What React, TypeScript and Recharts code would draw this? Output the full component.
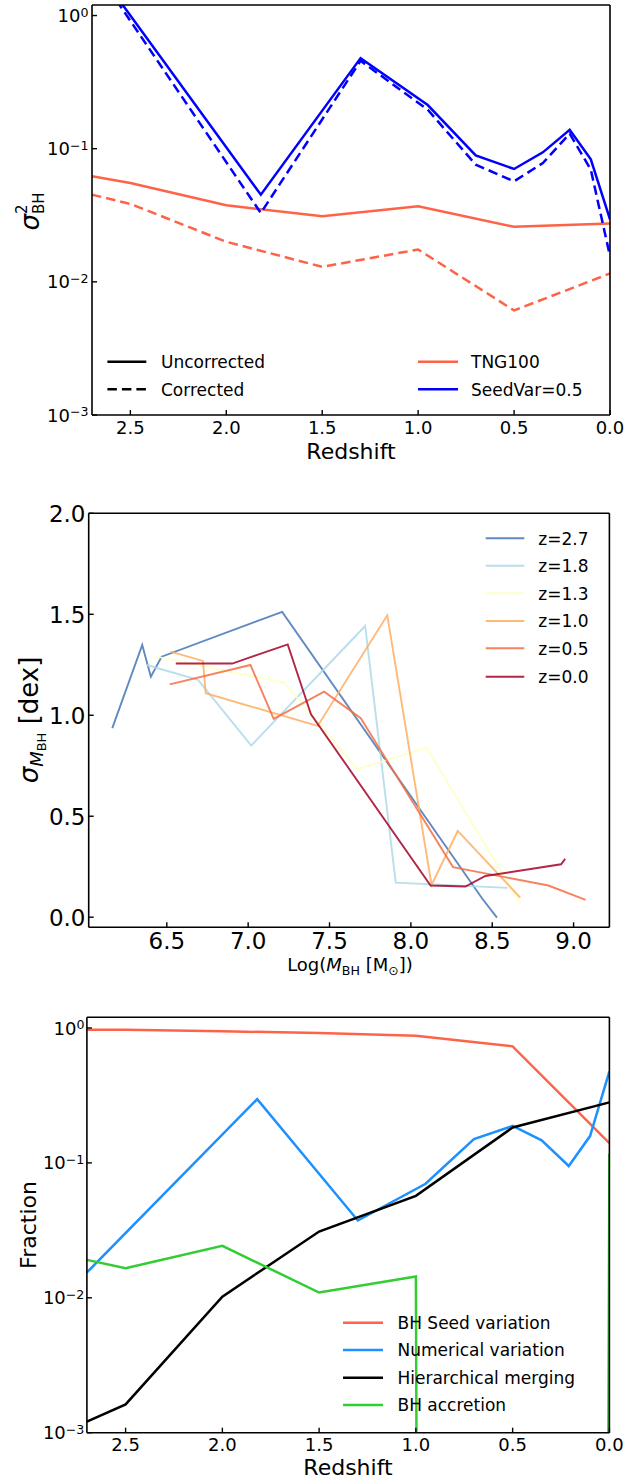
import React from 'react';
import { LineChart, Line, XAxis, YAxis } from 'recharts';

const FONT = "'DejaVu Sans', 'Liberation Sans', sans-serif";

// ---------- Panel 1: sigma^2_BH vs redshift ----------
const tngZ = [2.7, 2.5, 2.0, 1.5, 1.0, 0.5, 0.0];
const tngUncorrected = [0.062, 0.0553, 0.0376, 0.0311, 0.0369, 0.0259, 0.0274];
const tngCorrected = [0.0452, 0.0385, 0.02, 0.01296, 0.0175, 0.0061, 0.01155];
const seedVarZ = [2.7, 1.82, 1.3, 0.95, 0.7, 0.5, 0.35, 0.21, 0.1, 0.0];
const seedVarUncorrected = [2.49, 0.0451, 0.479, 0.2127, 0.0891, 0.0704, 0.0939, 0.1388, 0.0832, 0.0294];
const seedVarCorrected = [2.42, 0.0329, 0.457, 0.196, 0.0759, 0.0569, 0.078, 0.1296, 0.0696, 0.0156];

const redshiftTicks = [0, 0.5, 1.0, 1.5, 2.0, 2.5];
const logTicks = [0.001, 0.01, 0.1, 1];

// ---------- Panel 2: sigma_MBH vs log M_BH ----------
const massTicks = [6.5, 7.0, 7.5, 8.0, 8.5, 9.0];
const sigmaTicks = [0, 0.5, 1.0, 1.5, 2.0];
const z27Mass = [6.165, 6.349, 6.402, 6.468, 7.209, 8.437, 8.529];
const z27Sigma = [0.936, 1.348, 1.191, 1.29, 1.512, 0.094, -0.002];
const z18Mass = [6.376, 6.692, 7.019, 7.719, 7.907, 8.594];
const z18Sigma = [1.249, 1.175, 0.85, 1.442, 0.171, 0.145];
const z13Mass = [6.437, 7.223, 7.672, 8.096, 8.672];
const z13Sigma = [1.29, 1.161, 0.733, 0.84, 0.072];
const z10Mass = [6.523, 6.722, 6.739, 7.427, 7.855, 8.127, 8.288, 8.672];
const z10Sigma = [1.315, 1.269, 1.109, 0.947, 1.495, 0.16, 0.427, 0.097];
const z05Mass = [6.518, 7.014, 7.157, 7.467, 7.692, 8.259, 8.845, 9.074];
const z05Sigma = [1.153, 1.249, 0.982, 1.117, 0.985, 0.248, 0.157, 0.086];
const z00Mass = [6.555, 6.902, 7.243, 7.386, 8.121, 8.335, 8.458, 8.923, 8.948];
const z00Sigma = [1.256, 1.256, 1.351, 1.005, 0.157, 0.152, 0.204, 0.262, 0.289];

// ---------- Panel 3: fractions vs redshift ----------
const seedFracZ = [2.7, 2.5, 2.0, 1.5, 1.0, 0.5, 0.0];
const seedFrac = [0.972, 0.972, 0.945, 0.918, 0.877, 0.731, 0.14];
const numFracZ = [2.7, 1.82, 1.3, 0.95, 0.7, 0.5, 0.35, 0.21, 0.1, 0.0];
const numFrac = [0.0154, 0.297, 0.0374, 0.07, 0.15, 0.188, 0.147, 0.0948, 0.158, 0.477];
const mergeFracZ = [2.7, 2.5, 2.0, 1.5, 1.0, 0.5, 0.0];
const mergeFrac = [0.001206, 0.00162, 0.0102, 0.031, 0.057, 0.183, 0.281];
const accFracZ = [2.7, 2.5, 2.0, 1.5, 1.0, 0.5, 0.0];
const accFrac = [0.0191, 0.01656, 0.0243, 0.01094, 0.01436, 0, 0.117];

type Pt = { x: number; y: number };
const toRows = (xs: number[], ys: number[]): Pt[] => xs.map((x, i) => ({ x, y: ys[i] }));
// non-positive values cannot be shown on a log axis: push them far below the axis (clipped)
const toLogRows = (xs: number[], ys: number[]): Pt[] =>
  xs.map((x, i) => ({ x, y: ys[i] > 0 ? ys[i] : 1e-200 }));

const axisLine = { stroke: '#000', strokeWidth: 1.6 };
const tickLine = { stroke: '#000', strokeWidth: 1.4 };

const BottomTick = (props: any) => {
  const { x, y, payload, fs, off } = props;
  return (
    <text x={x} y={y + off} textAnchor="middle" fontSize={fs} fontFamily={FONT} fill="#000">
      {Number(payload.value).toFixed(1)}
    </text>
  );
};

const LeftTick = (props: any) => {
  const { x, y, payload, fs, gap, base } = props;
  return (
    <text x={x - gap} y={y + base} textAnchor="end" fontSize={fs} fontFamily={FONT} fill="#000">
      {Number(payload.value).toFixed(1)}
    </text>
  );
};

const LogTick = (props: any) => {
  const { x, y, payload, fs, gap, base } = props;
  const e = Math.round(Math.log10(Number(payload.value)));
  const sup = e === 0 ? '0' : '\u2212' + String(-e);
  return (
    <text x={x - gap} y={y + base} textAnchor="end" fontSize={fs} fontFamily={FONT} fill="#000">
      10
      <tspan fontSize={fs * 0.7} dy={-fs * 0.3}>
        {sup}
      </tspan>
    </text>
  );
};

const TNG_COLOR = '#ff6347';
const SEED_COLOR = '#0000ff';
const DASH = '9.5 5';

const p2Series = [
  { label: 'z=2.7', color: '#4575b4', xs: z27Mass, ys: z27Sigma },
  { label: 'z=1.8', color: '#abd9e9', xs: z18Mass, ys: z18Sigma },
  { label: 'z=1.3', color: '#ffffbf', xs: z13Mass, ys: z13Sigma },
  { label: 'z=1.0', color: '#fdae61', xs: z10Mass, ys: z10Sigma },
  { label: 'z=0.5', color: '#f46d43', xs: z05Mass, ys: z05Sigma },
  { label: 'z=0.0', color: '#a50026', xs: z00Mass, ys: z00Sigma },
];

const p3Series = [
  { label: 'BH Seed variation', color: '#ff6347', xs: seedFracZ, ys: seedFrac },
  { label: 'Numerical variation', color: '#1e90ff', xs: numFracZ, ys: numFrac },
  { label: 'Hierarchical merging', color: '#000000', xs: mergeFracZ, ys: mergeFrac },
  { label: 'BH accretion', color: '#32cd32', xs: accFracZ, ys: accFrac },
];

export default function App() {
  return (
    <div style={{ position: 'absolute', left: 0, top: 0, width: 643, height: 1480, background: '#fff' }}>
      {/* Panel 1 */}
      <div style={{ position: 'absolute', left: 0, top: 0 }}>
        <LineChart width={643} height={470} margin={{ top: 4, right: 32, bottom: 0, left: 0 }}>
          <XAxis dataKey="x" type="number" domain={[0, 2.7]} ticks={redshiftTicks} reversed allowDataOverflow
            height={55} interval={0} axisLine={axisLine} tickLine={tickLine} tickSize={-5} tickMargin={5}
            tick={<BottomTick fs={18} off={18.7} />} />
          <XAxis xAxisId="top" orientation="top" dataKey="x" type="number" domain={[0, 2.7]} ticks={redshiftTicks}
            reversed allowDataOverflow height={1} interval={0} axisLine={axisLine} tickLine={tickLine} tickSize={-5} tick={false} />
          <YAxis type="number" scale="log" domain={[0.001, 1.2]} ticks={logTicks} allowDataOverflow width={92}
            interval={0} axisLine={axisLine} tickLine={tickLine} tickSize={-5} tickMargin={5}
            tick={<LogTick fs={18} gap={3.5} base={6.6} />} />
          <YAxis yAxisId="right" orientation="right" type="number" scale="log" domain={[0.001, 1.2]} ticks={logTicks}
            allowDataOverflow width={1} interval={0} axisLine={axisLine} tickLine={tickLine} tickSize={-5} tick={false} />
          <Line data={toRows(tngZ, tngUncorrected)} dataKey="y" stroke={TNG_COLOR} strokeWidth={2.5} dot={false} isAnimationActive={false} />
          <Line data={toRows(tngZ, tngCorrected)} dataKey="y" stroke={TNG_COLOR} strokeWidth={2.5} strokeDasharray={DASH} dot={false} isAnimationActive={false} />
          <Line data={toRows(seedVarZ, seedVarUncorrected)} dataKey="y" stroke={SEED_COLOR} strokeWidth={2.5} dot={false} isAnimationActive={false} />
          <Line data={toRows(seedVarZ, seedVarCorrected)} dataKey="y" stroke={SEED_COLOR} strokeWidth={2.5} strokeDasharray={DASH} dot={false} isAnimationActive={false} />
        </LineChart>
      </div>

      {/* Panel 2 */}
      <div style={{ position: 'absolute', left: 0, top: 500 }}>
        <LineChart width={643} height={490} margin={{ top: 12.3, right: 32.6, bottom: 0, left: 0 }}>
          <XAxis dataKey="x" type="number" domain={[6.02, 9.22]} ticks={massTicks} allowDataOverflow
            height={62.7} interval={0} axisLine={axisLine} tickLine={tickLine} tickSize={-5} tickMargin={5}
            tick={<BottomTick fs={23} off={22} />} />
          <XAxis xAxisId="top" orientation="top" dataKey="x" type="number" domain={[6.02, 9.22]} ticks={massTicks}
            allowDataOverflow height={1} interval={0} axisLine={axisLine} tickLine={tickLine} tickSize={-5} tick={false} />
          <YAxis type="number" domain={[-0.05, 2.0]} ticks={sigmaTicks} allowDataOverflow width={88.7}
            interval={0} axisLine={axisLine} tickLine={tickLine} tickSize={-5} tickMargin={5}
            tick={<LeftTick fs={23} gap={3.2} base={8.4} />} />
          <YAxis yAxisId="right" orientation="right" type="number" domain={[-0.05, 2.0]} ticks={sigmaTicks}
            allowDataOverflow width={1} interval={0} axisLine={axisLine} tickLine={tickLine} tickSize={-5} tick={false} />
          {p2Series.map((s) => (
            <Line key={s.label} data={toRows(s.xs, s.ys)} dataKey="y" stroke={s.color} strokeOpacity={0.85}
              strokeWidth={1.9} dot={false} isAnimationActive={false} />
          ))}
        </LineChart>
      </div>

      {/* Panel 3 */}
      <div style={{ position: 'absolute', left: 0, top: 1000 }}>
        <LineChart width={643} height={480} margin={{ top: 16.3, right: 32.6, bottom: 0, left: 0 }}>
          <XAxis dataKey="x" type="number" domain={[0, 2.7]} ticks={redshiftTicks} reversed allowDataOverflow
            height={47.3} interval={0} axisLine={axisLine} tickLine={tickLine} tickSize={-5} tickMargin={5}
            tick={<BottomTick fs={18} off={18} />} />
          <XAxis xAxisId="top" orientation="top" dataKey="x" type="number" domain={[0, 2.7]} ticks={redshiftTicks}
            reversed allowDataOverflow height={1} interval={0} axisLine={axisLine} tickLine={tickLine} tickSize={-5} tick={false} />
          <YAxis type="number" scale="log" domain={[0.001, 1.2]} ticks={logTicks} allowDataOverflow width={86.9}
            interval={0} axisLine={axisLine} tickLine={tickLine} tickSize={-5} tickMargin={5}
            tick={<LogTick fs={18} gap={2.5} base={6.6} />} />
          <YAxis yAxisId="right" orientation="right" type="number" scale="log" domain={[0.001, 1.2]} ticks={logTicks}
            allowDataOverflow width={1} interval={0} axisLine={axisLine} tickLine={tickLine} tickSize={-5} tick={false} />
          {p3Series.map((s) => (
            <Line key={s.label} data={toLogRows(s.xs, s.ys)} dataKey="y" stroke={s.color} strokeWidth={2.5}
              dot={false} isAnimationActive={false} />
          ))}
        </LineChart>
      </div>

      {/* Legends and axis titles */}
      <svg width={643} height={1480} style={{ position: 'absolute', left: 0, top: 0, pointerEvents: 'none' }}
        fontFamily={FONT}>
        {/* Panel 1 legend */}
        <line x1={107.4} x2={146.3} y1={361.7} y2={361.7} stroke="#000" strokeWidth={2.5} />
        <text x={161} y={367.9} fontSize={17}>Uncorrected</text>
        <line x1={107.4} x2={146.3} y1={389.3} y2={389.3} stroke="#000" strokeWidth={2.5} strokeDasharray={DASH} />
        <text x={161} y={395.5} fontSize={17}>Corrected</text>
        <line x1={418} x2={458} y1={361.7} y2={361.7} stroke={TNG_COLOR} strokeWidth={2.5} />
        <text x={471} y={367.9} fontSize={17}>TNG100</text>
        <line x1={418} x2={458} y1={389.3} y2={389.3} stroke={SEED_COLOR} strokeWidth={2.5} />
        <text x={471} y={395.5} fontSize={17}>SeedVar=0.5</text>

        {/* Panel 1 axis titles */}
        <text x={351} y={459} fontSize={22} textAnchor="middle">Redshift</text>
        <text transform="translate(39,211.5) rotate(-90)" fontSize={26} textAnchor="middle">
          <tspan fontStyle="italic">σ</tspan>
          <tspan fontSize={15} dy={-12}>2</tspan>
          <tspan fontSize={15} dx={-9.5} dy={17}>BH</tspan>
        </text>

        {/* Panel 2 legend */}
        {p2Series.map((s, i) => {
          const yRow = [538.3, 565.7, 593.3, 621, 648.3, 676.7][i];
          return (
            <g key={s.label}>
              <line x1={485.7} x2={524.3} y1={yRow} y2={yRow} stroke={s.color} strokeOpacity={0.85} strokeWidth={2} />
              <text x={538.3} y={yRow + 6.2} fontSize={17}>{s.label}</text>
            </g>
          );
        })}

        {/* Panel 2 axis titles */}
        <text x={350} y={971} fontSize={18} textAnchor="middle">
          Log(<tspan fontStyle="italic">M</tspan>
          <tspan fontSize={12.6} dy={4}>BH</tspan>
          <tspan dy={-4}> [M</tspan>
          <tspan fontSize={12.6} dy={4}>⊙</tspan>
          <tspan dy={-4}>])</tspan>
        </text>
        <text transform="translate(38,720) rotate(-90)" fontSize={26} textAnchor="middle">
          <tspan fontStyle="italic">σ</tspan>
          <tspan fontSize={18} fontStyle="italic" dy={5}>M</tspan>
          <tspan fontSize={13} dy={3}>BH</tspan>
          <tspan dy={-8}> [dex]</tspan>
        </text>

        {/* Panel 3 legend */}
        {p3Series.map((s, i) => {
          const yRow = [1322.7, 1350, 1377.7, 1405][i];
          return (
            <g key={s.label}>
              <line x1={343} x2={383} y1={yRow} y2={yRow} stroke={s.color} strokeWidth={2.5} />
              <text x={397.5} y={yRow + 6.2} fontSize={17}>{s.label}</text>
            </g>
          );
        })}

        {/* Panel 3 axis titles */}
        <text x={348} y={1475} fontSize={22} textAnchor="middle">Redshift</text>
        <text transform="translate(36,1225) rotate(-90)" fontSize={22} textAnchor="middle">Fraction</text>
      </svg>
    </div>
  );
}
